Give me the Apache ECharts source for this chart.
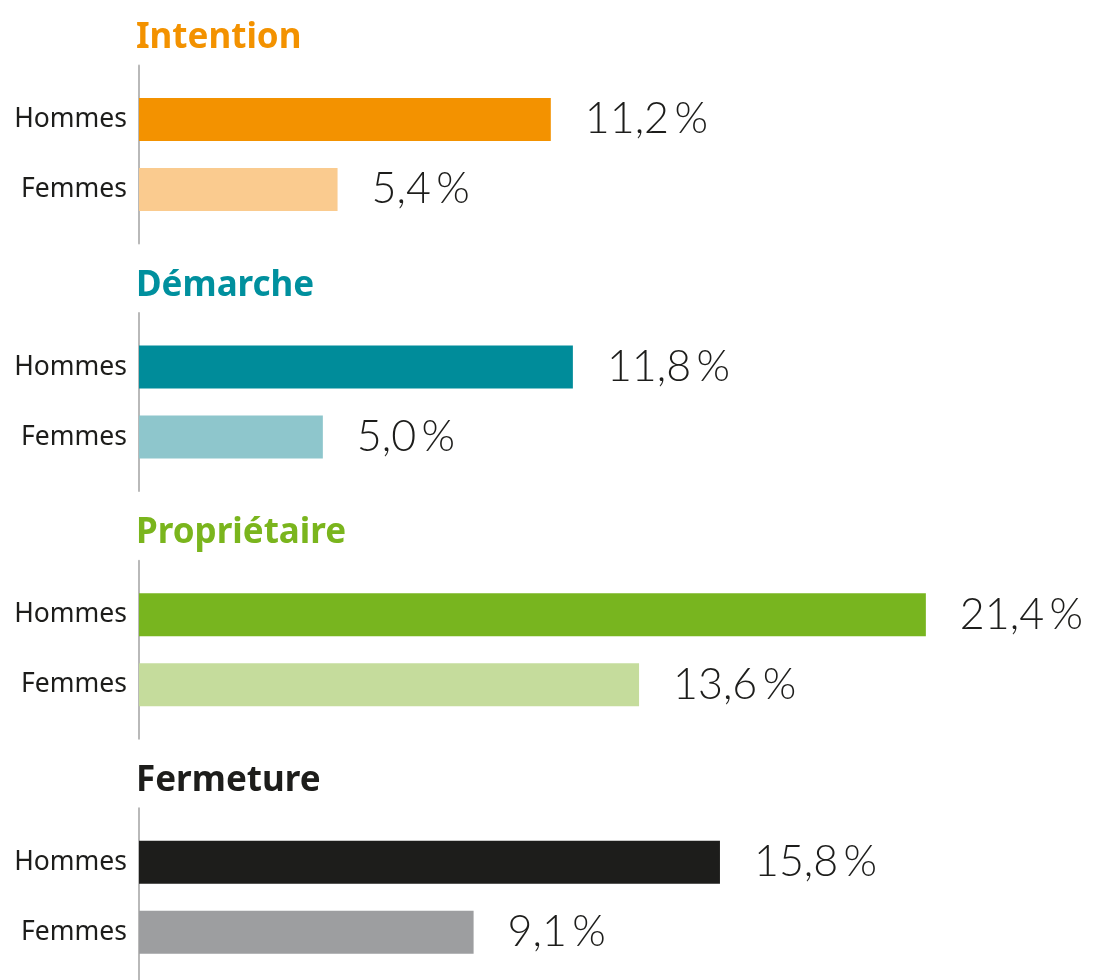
<!DOCTYPE html>
<html>
<head>
<meta charset="utf-8">
<script src="https://cdn.jsdelivr.net/npm/echarts@6/dist/echarts.min.js"></script>
<style>
  html, body { margin: 0; padding: 0; background: #fff; }
  #chart { width: 1105px; height: 980px; }
</style>
</head>
<body>
<div id="chart"></div>
<script>
// données
const panels = ['Intention', 'Démarche', 'Propriétaire', 'Fermeture'];
const genres = ['Hommes', 'Femmes'];
const hommes = [11.2, 11.8, 21.4, 15.8];
const femmes = [5.4, 5.0, 13.6, 9.1];

const titleColors = ['#f39200', '#00909e', '#7ab51d', '#1d1d1b'];
const hommesColors = ['#f39200', '#008c9a', '#78b51f', '#1d1d1b'];
const femmesColors = ['#facb8f', '#8ec6cc', '#c5dc9c', '#9d9ea0'];

const chart = echarts.init(document.getElementById('chart'), null, { renderer: 'canvas' });

const step = 247.6;
const left = 139;
const xMax = 26;
const plotW = 956;

const title = [];
const grid = [];
const xAxis = [];
const yAxis = [];
const series = [];

panels.forEach((name, i) => {
  const top = 65.5 + step * i;

  title.push({
    text: name,
    left: 136,
    top: top - 45,
    padding: 0,
    textStyle: { fontFamily: 'Noto Sans', fontWeight: 'bold', fontSize: 35, color: titleColors[i] }
  });

  // grille avec les barres
  grid.push({ left: left, top: top + 19, width: plotW, height: 140 });
  // grille qui porte seulement le trait vertical
  grid.push({ left: left, top: top, width: plotW, height: 178 });

  xAxis.push({ gridIndex: 2 * i, type: 'value', min: 0, max: xMax, show: false });
  xAxis.push({ gridIndex: 2 * i + 1, type: 'value', min: 0, max: xMax, show: false });

  yAxis.push({
    gridIndex: 2 * i,
    type: 'category',
    inverse: true,
    data: genres,
    axisLine: { show: false },
    axisTick: { show: false },
    axisLabel: { margin: 12, fontFamily: 'Noto Sans', fontSize: 26.5, color: '#1d1d1b' }
  });
  yAxis.push({
    gridIndex: 2 * i + 1,
    type: 'value',
    min: 0,
    max: 1,
    axisLine: { show: true, lineStyle: { color: '#b9b9b9', width: 2 } },
    axisTick: { show: false },
    axisLabel: { show: false },
    splitLine: { show: false }
  });

  series.push({
    type: 'bar',
    xAxisIndex: 2 * i,
    yAxisIndex: 2 * i,
    barWidth: 43,
    silent: true,
    data: [
      { value: hommes[i], itemStyle: { color: hommesColors[i] } },
      { value: femmes[i], itemStyle: { color: femmesColors[i] } }
    ],
    label: {
      show: true,
      position: 'right',
      distance: 34,
      fontFamily: 'Lato',
      fontWeight: 300,
      fontSize: 43,
      color: '#1d1d1b',
      formatter: (p) => p.value.toFixed(1).replace('.', ',') + '\u2009%'
    }
  });
});

chart.setOption({
  animation: false,
  backgroundColor: '#ffffff',
  title: title,
  grid: grid,
  xAxis: xAxis,
  yAxis: yAxis,
  series: series
});
</script>
</body>
</html>
